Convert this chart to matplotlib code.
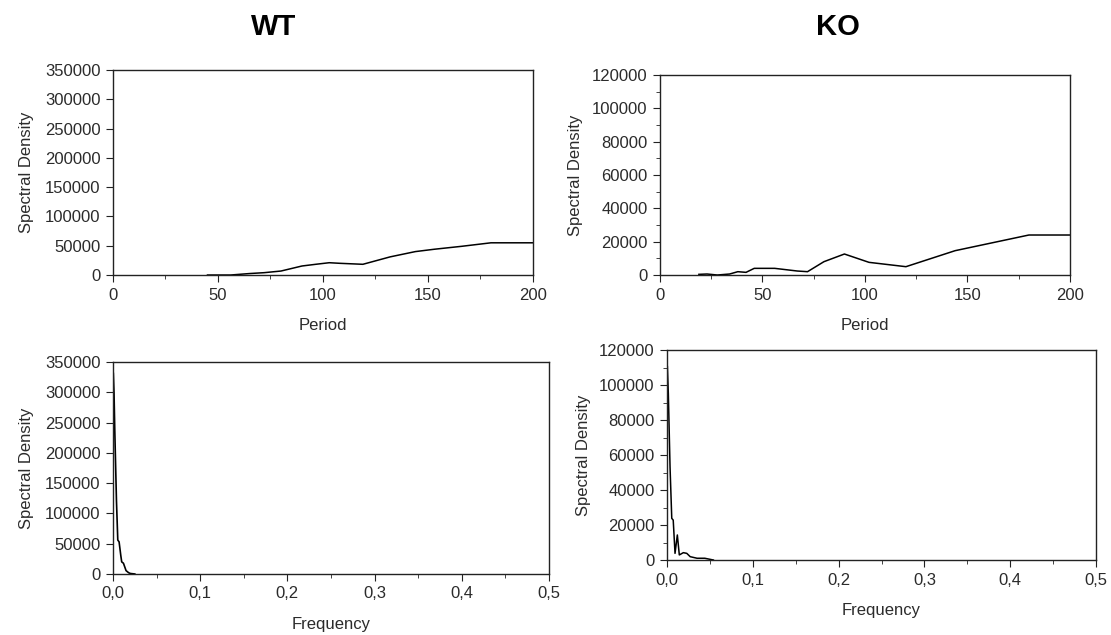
import matplotlib.pyplot as plt
from matplotlib.ticker import MultipleLocator, FuncFormatter

plt.rcParams['font.family'] = ['Liberation Sans', 'DejaVu Sans']

# ---- WT, period domain ----
wt_period = [45, 50, 56, 65, 72, 80, 90, 97, 103, 108, 119, 132, 144, 153, 166, 180, 200]
wt_period_sd = [0, 0, 0, 2500, 4000, 6800, 15400, 18500, 21000, 20000, 18300, 31000, 40000, 44000, 49000, 55000, 55000]

# ---- KO, period domain ----
ko_period = [19, 23, 28, 34, 38, 42, 46, 56, 67, 72, 80, 90, 102, 120, 144, 180, 200]
ko_period_sd = [400, 600, 0, 600, 2000, 1600, 4000, 4000, 2400, 2000, 8000, 12600, 7600, 5000, 14600, 24000, 24000]

# ---- WT, frequency domain ----
wt_freq = [0.0004, 0.0012, 0.002, 0.004, 0.0055, 0.007, 0.009, 0.010, 0.012, 0.015, 0.018, 0.020, 0.025]
wt_freq_sd = [331000, 298000, 240000, 120000, 56000, 53000, 30000, 20000, 17700, 5500, 2000, 800, 0]

# ---- KO, frequency domain ----
ko_freq = [0.0004, 0.0015, 0.0035, 0.0055, 0.0072, 0.0093, 0.012, 0.0143, 0.019, 0.023, 0.027, 0.035, 0.044, 0.054]
ko_freq_sd = [110500, 95000, 53000, 23800, 22800, 3800, 14300, 2900, 4200, 3800, 1900, 1000, 1000, 0]

TXT = '#2b2b2b'
FS = 12
comma_fmt = FuncFormatter(lambda v, p: f"{v:.1f}".replace('.', ','))


def style_ax(ax, xlabel, ypad=8):
    for s in ax.spines.values():
        s.set_color('#222222')
        s.set_linewidth(1.0)
    ax.tick_params(which='major', direction='out', length=5, color='#222222',
                   labelsize=FS, labelcolor=TXT, pad=4)
    ax.tick_params(which='minor', direction='out', length=3, color='#222222')
    ax.set_xlabel(xlabel, fontsize=FS, color=TXT, labelpad=11)
    ax.set_ylabel("Spectral Density", fontsize=FS, color=TXT, labelpad=ypad)


fig = plt.figure(figsize=(11.11, 6.35), dpi=100)

ax1 = fig.add_axes([0.1017, 0.5669, 0.378, 0.3228])
ax2 = fig.add_axes([0.594, 0.5669, 0.369, 0.315])
ax3 = fig.add_axes([0.1017, 0.0961, 0.3924, 0.3339])
ax4 = fig.add_axes([0.6004, 0.1181, 0.3861, 0.3307])

# top left
ax1.plot(wt_period, wt_period_sd, color='black', lw=1.1)
ax1.set_xlim(0, 200)
ax1.set_ylim(0, 350000)
ax1.xaxis.set_major_locator(MultipleLocator(50))
ax1.xaxis.set_minor_locator(MultipleLocator(25))
ax1.yaxis.set_major_locator(MultipleLocator(50000))
style_ax(ax1, "Period")

# top right
ax2.plot(ko_period, ko_period_sd, color='black', lw=1.1)
ax2.set_xlim(0, 200)
ax2.set_ylim(0, 120000)
ax2.xaxis.set_major_locator(MultipleLocator(50))
ax2.xaxis.set_minor_locator(MultipleLocator(25))
ax2.yaxis.set_major_locator(MultipleLocator(20000))
ax2.yaxis.set_minor_locator(MultipleLocator(10000))
style_ax(ax2, "Period", ypad=6)

# bottom left
ax3.plot(wt_freq, wt_freq_sd, color='black', lw=1.2)
ax3.set_xlim(0, 0.5)
ax3.set_ylim(0, 350000)
ax3.xaxis.set_major_locator(MultipleLocator(0.1))
ax3.xaxis.set_minor_locator(MultipleLocator(0.05))
ax3.xaxis.set_major_formatter(comma_fmt)
ax3.yaxis.set_major_locator(MultipleLocator(50000))
style_ax(ax3, "Frequency")

# bottom right
ax4.plot(ko_freq, ko_freq_sd, color='black', lw=1.1)
ax4.set_xlim(0, 0.5)
ax4.set_ylim(0, 120000)
ax4.xaxis.set_major_locator(MultipleLocator(0.1))
ax4.xaxis.set_minor_locator(MultipleLocator(0.05))
ax4.xaxis.set_major_formatter(comma_fmt)
ax4.yaxis.set_major_locator(MultipleLocator(20000))
ax4.yaxis.set_minor_locator(MultipleLocator(10000))
style_ax(ax4, "Frequency", ypad=6)

fig.text(0.246, 0.957, "WT", ha='center', va='center', fontsize=21,
         fontweight='bold')
fig.text(0.754, 0.957, "KO", ha='center', va='center', fontsize=21,
         fontweight='bold')

fig.savefig("out.png", dpi=100)
